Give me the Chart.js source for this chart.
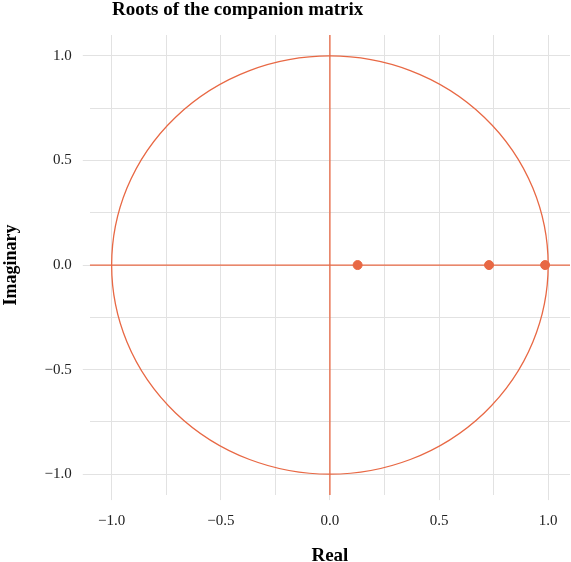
<!DOCTYPE html>
<html>
<head>
<meta charset="utf-8">
<script src="https://cdn.jsdelivr.net/npm/chart.js@4/dist/chart.umd.min.js"></script>
<style>
  html, body { margin: 0; padding: 0; background: #fff; }
  #wrap { position: relative; width: 571px; height: 562px; }
  #title {
    position: absolute; left: 112px; top: -1px;
    font: bold 19px "Liberation Serif", "Times New Roman", serif;
    line-height: 19px;
    color: #000; white-space: nowrap;
  }
</style>
</head>
<body>
<div id="wrap">
  <div id="title">Roots of the companion matrix</div>
  <canvas id="rootsChart" width="571" height="562"></canvas>
</div>
<script>
// roots (all real)
const rootReal = [0.127, 0.729, 0.986];
const rootImag = [0, 0, 0];
const tickValues = [-1, -0.75, -0.5, -0.25, 0, 0.25, 0.5, 0.75, 1];
const axisMin = -1.1;
const axisMax = 1.1;
const unitRadius = 1;

const accent = 'rgb(232, 104, 68)';
const gridGray = '#e2e2e2';
const serif = '"Liberation Serif", "Times New Roman", serif';

function isMajor(v) {
    return Math.abs(v * 2 - Math.round(v * 2)) < 1e-6;
}

function fmt(v) {
    const s = Math.abs(v).toFixed(1);
    return v < 0 ? '\u2212' + s : s;
}

// let the plot run almost to the right edge (chart.js keeps a few px spare)
const stretchRightPlugin = {
    id: 'stretchRight',
    afterLayout(chart) {
        const x = chart.scales.x;
        const right = chart.width - 1;
        x.right = right;
        x.width = right - x.left;
        x.configure();
        chart.chartArea.right = right;
        chart.chartArea.width = right - chart.chartArea.left;
    }
};

// unit circle drawn through the chart scales
const unitCirclePlugin = {
    id: 'unitCircle',
    beforeDatasetsDraw(chart) {
        const {ctx, scales: {x, y}} = chart;
        const cx = x.getPixelForValue(0);
        const cy = y.getPixelForValue(0);
        const rx = Math.abs(x.getPixelForValue(unitRadius) - cx);
        const ry = Math.abs(y.getPixelForValue(unitRadius) - cy);
        ctx.save();
        ctx.strokeStyle = accent;
        ctx.lineWidth = 1.3;
        ctx.beginPath();
        ctx.ellipse(cx, cy, rx, ry, 0, 0, Math.PI * 2);
        ctx.stroke();
        ctx.restore();
    }
};

const points = rootReal.map((r, i) => ({x: r, y: rootImag[i]}));

new Chart(document.getElementById('rootsChart').getContext('2d'), {
    type: 'scatter',
    data: {
        datasets: [
            {
                label: 'real axis',
                data: [{x: axisMin, y: 0}, {x: axisMax, y: 0}],
                showLine: true,
                borderColor: accent,
                borderWidth: 1.3,
                pointRadius: 0
            },
            {
                label: 'imaginary axis',
                data: [{x: 0, y: axisMin}, {x: 0, y: axisMax}],
                showLine: true,
                borderColor: accent,
                borderWidth: 1.3,
                pointRadius: 0
            },
            {
                label: 'roots',
                data: points,
                backgroundColor: accent,
                borderColor: accent,
                pointRadius: 4.5,
                pointHoverRadius: 4.5
            }
        ]
    },
    options: {
        responsive: false,
        animation: false,
        layout: {
            padding: {top: 35, right: 1, left: 0, bottom: -5}
        },
        plugins: {
            legend: {display: false},
            tooltip: {enabled: false}
        },
        scales: {
            x: {
                type: 'linear',
                min: axisMin,
                max: axisMax,
                afterBuildTicks: (scale) => {
                    scale.ticks = tickValues.map(v => ({value: v}));
                },
                border: {display: false},
                grid: {
                    color: gridGray,
                    tickColor: (ctx) => isMajor(ctx.tick.value) ? gridGray : 'rgba(0,0,0,0)',
                    tickLength: 5
                },
                ticks: {
                    autoSkip: false,
                    maxRotation: 0,
                    padding: 12,
                    color: '#222',
                    font: {family: serif, size: 15},
                    callback: (v) => isMajor(v) ? fmt(v) : ''
                },
                title: {
                    display: true,
                    text: 'Real',
                    color: '#000',
                    font: {family: serif, size: 19, weight: 'bold', lineHeight: 1.1},
                    padding: {top: 4, bottom: 0}
                }
            },
            y: {
                type: 'linear',
                min: axisMin,
                max: axisMax,
                afterBuildTicks: (scale) => {
                    scale.ticks = tickValues.map(v => ({value: v}));
                },
                border: {display: false},
                grid: {
                    color: gridGray,
                    tickColor: (ctx) => isMajor(ctx.tick.value) ? gridGray : 'rgba(0,0,0,0)',
                    tickLength: 7
                },
                ticks: {
                    autoSkip: false,
                    padding: 11,
                    color: '#222',
                    font: {family: serif, size: 15},
                    callback: (v) => isMajor(v) ? fmt(v) : ''
                },
                title: {
                    display: true,
                    text: 'Imaginary',
                    color: '#000',
                    font: {family: serif, size: 18, weight: 'bold', lineHeight: 1.2},
                    padding: {top: 1, bottom: 11}
                }
            }
        }
    },
    plugins: [stretchRightPlugin, unitCirclePlugin]
});
</script>
</body>
</html>
